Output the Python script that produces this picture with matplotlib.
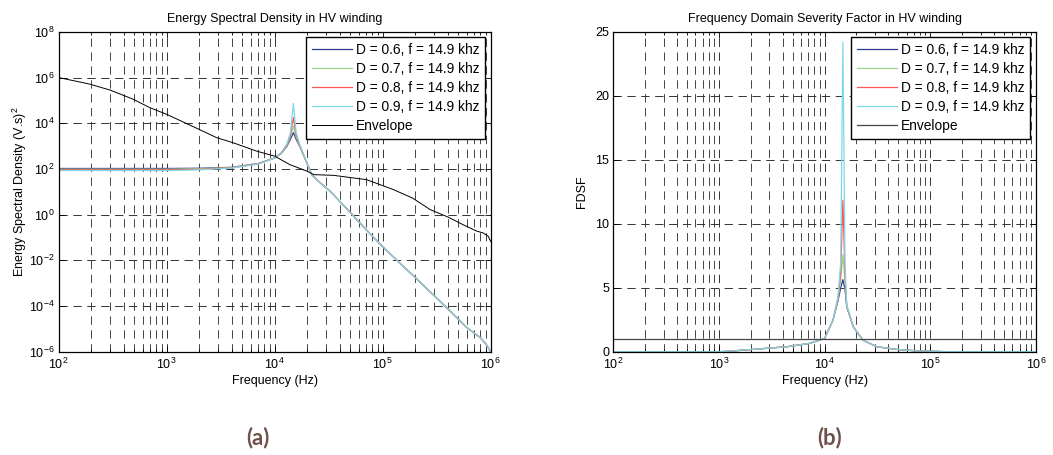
import numpy as np
import matplotlib
matplotlib.use('Agg')
import matplotlib.pyplot as plt
from matplotlib.ticker import NullLocator

plt.rcParams['font.family'] = ['Liberation Sans', 'DejaVu Sans']
plt.rcParams['mathtext.fontset'] = 'custom'
plt.rcParams['mathtext.rm'] = 'Liberation Sans'
plt.rcParams['mathtext.default'] = 'regular'
plt.rcParams['lines.scale_dashes'] = False

# Datos (ESD en exponentes log10)
esd_freq = [100, 500, 1000, 2000, 4000, 7000, 10000, 11500, 13000, 14000, 14900,
            15800, 17000, 19000, 22000, 26000, 33000, 50000, 70000, 100000, 150000,
            200000, 300000, 450000, 600000, 800000, 900000, 1000000]
esd_d06 = [2.02, 2.02, 2.02, 2.03, 2.07, 2.23, 2.48, 2.68, 3.00, 3.30, 3.59,
           3.30, 3.00, 2.48, 1.75, 1.42, 1.00, 0.10, -0.65, -1.40, -2.20,
           -2.75, -3.55, -4.35, -4.94, -5.38, -5.65, -6.00]
esd_d07 = [1.99, 1.99, 1.99, 2.01, 2.06, 2.22, 2.48, 2.69, 3.03, 3.40, 3.87,
           3.40, 3.02, 2.48, 1.75, 1.42, 1.00, 0.10, -0.65, -1.40, -2.20,
           -2.75, -3.55, -4.35, -4.94, -5.38, -5.65, -6.00]
esd_d08 = [1.96, 1.96, 1.96, 1.98, 2.05, 2.22, 2.48, 2.70, 3.06, 3.50, 4.25,
           3.50, 3.05, 2.49, 1.75, 1.42, 1.00, 0.10, -0.65, -1.40, -2.20,
           -2.75, -3.55, -4.35, -4.94, -5.38, -5.65, -6.00]
esd_d09 = [1.93, 1.93, 1.93, 1.96, 2.04, 2.21, 2.48, 2.71, 3.10, 3.60, 4.86,
           3.60, 3.08, 2.50, 1.75, 1.42, 1.00, 0.10, -0.65, -1.40, -2.20,
           -2.75, -3.55, -4.35, -4.94, -5.38, -5.65, -6.00]

env_freq = [100, 195, 300, 490, 700, 1000, 2000, 2900, 4100, 6800, 10000, 13800,
            20000, 23000, 35000, 71000, 125000, 190000, 275000, 400000, 560000,
            740000, 850000, 950000, 1000000]
env_esd = [6.00, 5.71, 5.45, 5.05, 4.68, 4.39, 3.73, 3.37, 3.15, 2.78, 2.56, 2.19,
           1.90, 1.75, 1.72, 1.53, 1.10, 0.72, 0.22, -0.10, -0.45, -0.72, -0.80,
           -0.95, -1.18]

# FDSF
fdsf_freq = [100, 1000, 1200, 2100, 4400, 7200, 10000, 12000, 13400, 14200, 14900,
             15600, 16200, 18700, 23000, 31000, 48000, 80000, 150000, 1000000]
fdsf_d06 = [0, 0, 0.03, 0.18, 0.39, 0.65, 1.04, 2.46, 4.0, 5.0, 5.63,
            4.9, 3.5, 1.94, 0.91, 0.39, 0.18, 0.05, 0, 0]
fdsf_d07 = [0, 0, 0.03, 0.18, 0.39, 0.65, 1.04, 2.46, 4.1, 5.6, 7.59,
            5.5, 3.55, 1.94, 0.91, 0.39, 0.18, 0.05, 0, 0]
fdsf_d08 = [0, 0, 0.03, 0.18, 0.39, 0.65, 1.04, 2.46, 4.2, 6.2, 11.84,
            6.0, 3.6, 1.94, 0.91, 0.39, 0.18, 0.05, 0, 0]
fdsf_d09 = [0, 0, 0.03, 0.18, 0.39, 0.65, 1.04, 2.46, 4.3, 7.0, 24.2,
            6.8, 3.65, 1.94, 0.91, 0.39, 0.18, 0.05, 0, 0]
env_fdsf_freq = [100, 1000000]
env_fdsf = [1.0, 1.0]

labels = ['D = 0.6, f = 14.9 khz', 'D = 0.7, f = 14.9 khz',
          'D = 0.8, f = 14.9 khz', 'D = 0.9, f = 14.9 khz']
colores = ['#2b3a8f', '#9fd38a', '#ff5555', '#7fd8e8']

fig = plt.figure(figsize=(10.53, 4.55), dpi=100)
ax1 = fig.add_axes([0.0557, 0.227, 0.4103, 0.703])
ax2 = fig.add_axes([0.5824, 0.227, 0.4014, 0.703])

grid_ls = (0, (6.0, 4.0))

def formato(ax):
    ax.set_xscale('log')
    ax.set_xlim(1e2, 1e6)
    ax.tick_params(which='both', direction='in', top=True, right=True,
                   labelsize=9, width=0.6, pad=3)
    ax.tick_params(which='major', length=4)
    ax.tick_params(which='minor', length=2)
    ax.tick_params(axis='x', which='major', pad=4)
    ax.grid(True, which='major', linestyle=grid_ls, color='#333333', linewidth=0.7)
    ax.grid(True, which='minor', axis='x', linestyle=grid_ls, color='#444444',
            linewidth=0.7)
    for s in ax.spines.values():
        s.set_linewidth(0.9)
    ax.set_xlabel('Frequency (Hz)', fontsize=9, labelpad=2)

# (a) Energy spectral density
for serie, c, lab in zip([esd_d06, esd_d07, esd_d08, esd_d09], colores, labels):
    ax1.plot(esd_freq, np.power(10.0, serie), color=c, lw=0.9, label=lab)
ax1.plot(env_freq, np.power(10.0, env_esd), color='k', lw=0.7, label='Envelope')
ax1.set_yscale('log')
ax1.set_ylim(1e-6, 1e8)
ax1.set_yticks([10.0 ** k for k in range(-6, 9, 2)])
ax1.yaxis.set_minor_locator(NullLocator())
formato(ax1)
ax1.set_ylabel('Energy Spectral Density (V.s)$^{2}$', fontsize=9, labelpad=0)
ax1.set_title('Energy Spectral Density in HV winding', fontsize=9, pad=7)

# (b) FDSF
for serie, c, lab in zip([fdsf_d06, fdsf_d07, fdsf_d08, fdsf_d09], colores, labels):
    ax2.plot(fdsf_freq, serie, color=c, lw=0.9, label=lab)
ax2.plot(env_fdsf_freq, env_fdsf, color='#444444', lw=0.9, label='Envelope')
ax2.set_ylim(0, 25)
ax2.set_yticks([0, 5, 10, 15, 20, 25])
formato(ax2)
ax2.set_ylabel('FDSF', fontsize=9, labelpad=5)
ax2.set_title('Frequency Domain Severity Factor in HV winding', fontsize=9, pad=7)

for ax in (ax1, ax2):
    leg = ax.legend(loc='upper right', fontsize=9.9, fancybox=False, framealpha=1,
                    edgecolor='k', handlelength=2.9, labelspacing=0.36,
                    borderpad=0.42, borderaxespad=0.4, handletextpad=0.3)
    leg.get_frame().set_linewidth(1.0)

fig.text(258 / 1053, 1 - 438 / 455, '(a)', fontsize=16, fontweight='bold',
         color='#6e5249', ha='center', va='center', family=['Lato', 'DejaVu Sans'])
fig.text(830 / 1053, 1 - 438 / 455, '(b)', fontsize=16, fontweight='bold',
         color='#6e5249', ha='center', va='center', family=['Lato', 'DejaVu Sans'])

fig.savefig('out.png', dpi=100)
